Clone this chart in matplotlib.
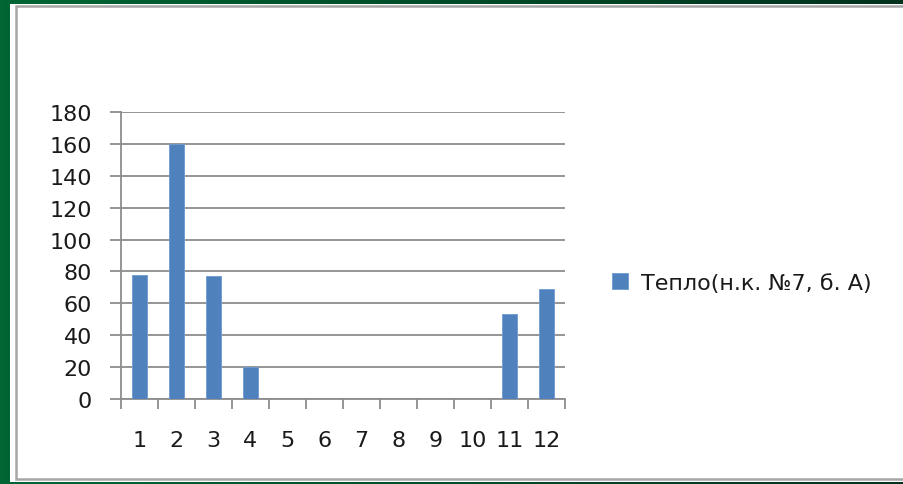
import numpy as np
import matplotlib
matplotlib.use("Agg")
import matplotlib.pyplot as plt
from matplotlib.patches import Rectangle

plt.rcParams['font.family'] = ['DejaVu Sans']

# monthly heat use
months = list(range(1, 13))
heat = [78, 160, 77, 20, 0, 0, 0, 0, 0, 0, 53, 69]
series_name = 'Тепло(н.к. №7, б. А)'
y_ticks = list(range(0, 181, 20))

W, H = 904, 485
fig = plt.figure(figsize=(W / 100, H / 100), dpi=100)

# green slide background, darker towards the right
bg = fig.add_axes([0, 0, 1, 1], zorder=-10)
grad = np.linspace(0, 1, 256).reshape(1, -1)
cmap = matplotlib.colors.LinearSegmentedColormap.from_list('g', ['#006633', '#00321e'])
bg.imshow(grad, aspect='auto', cmap=cmap, extent=[0, 1, 0, 1])
bg.set_xlim(0, 1)
bg.set_ylim(0, 1)
bg.axis('off')

# white sheet with the grey chart frame
bg.add_patch(Rectangle((10 / W, 2 / H), 1, 478 / H, facecolor='white', edgecolor='none'))
bg.add_patch(Rectangle((16 / W, 5 / H), 1, 473 / H, facecolor='white',
                       edgecolor='#a6a6a6', linewidth=1.8))

ax = fig.add_axes([121 / W, 85 / H, 444 / W, 287 / H])
ax.bar(months, heat, width=0.38, color='#4f81bd', edgecolor='#6f9bd1',
       linewidth=0.6, zorder=3, label=series_name)

ax.set_xlim(0.5, 12.5)
ax.set_ylim(0, 180)
ax.set_yticks(y_ticks)
ax.yaxis.grid(True, color='#8c8c8c', linewidth=1.3, zorder=0)

# category ticks sit between the bars, labels under the bars
ax.set_xticks(np.arange(0.5, 13, 1))
ax.set_xticklabels([])
ax.set_xticks(months, minor=True)
ax.set_xticklabels([str(m) for m in months], minor=True)
ax.tick_params(axis='x', which='major', length=7, width=1.3, color='#8c8c8c')
ax.tick_params(axis='x', which='minor', length=0, pad=22, labelsize=16, labelcolor='#1a1a1a')
ax.tick_params(axis='y', length=8, width=1.3, color='#8c8c8c', pad=13,
               labelsize=16, labelcolor='#1a1a1a')

for s in ['top', 'right']:
    ax.spines[s].set_visible(False)
for s in ['left', 'bottom']:
    ax.spines[s].set_color('#8c8c8c')
    ax.spines[s].set_linewidth(1.3)

fig.legend(loc='center left', bbox_to_anchor=(592 / W, 1 - 284 / H), frameon=False,
           fontsize=16, handlelength=0.7, handleheight=0.7, handletextpad=0.6,
           labelcolor='#1a1a1a')

fig.savefig('out.png', dpi=100)
